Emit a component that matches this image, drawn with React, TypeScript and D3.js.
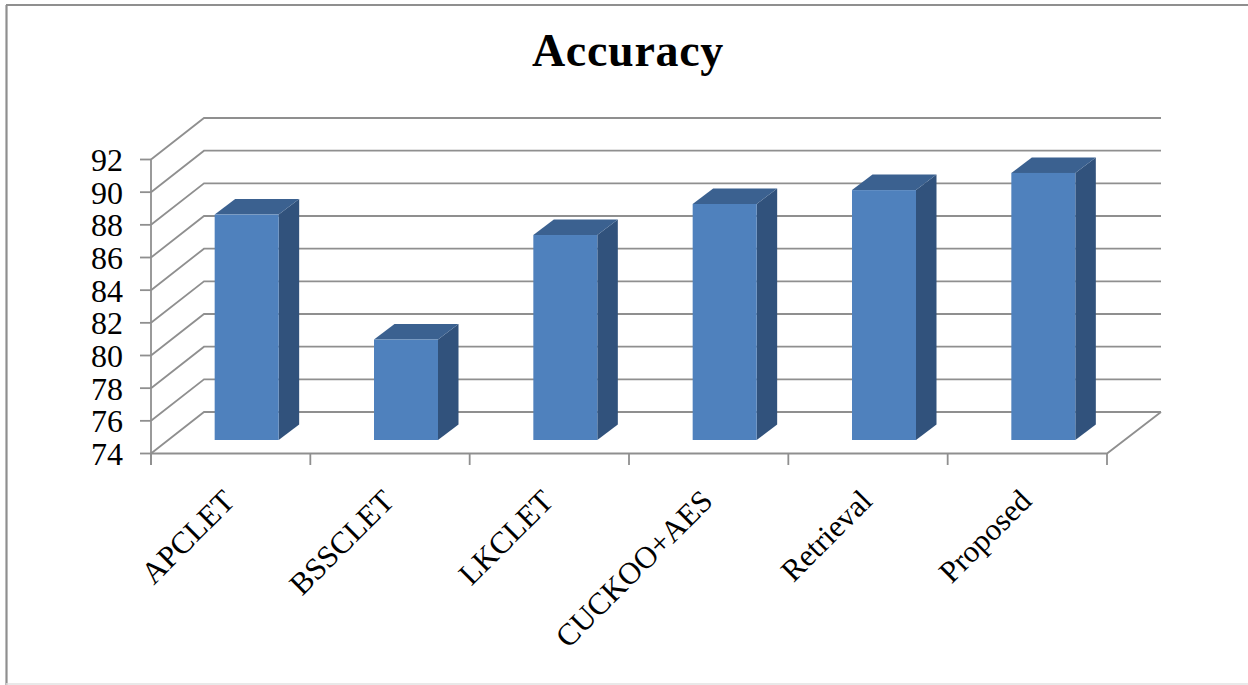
import React from "react";
import * as d3 from "d3";

const categories = ["APCLET", "BSSCLET", "LKCLET", "CUCKOO+AES", "Retrieval", "Proposed"];
const accuracy = [87.8, 80.15, 86.55, 88.45, 89.3, 90.35];
const yTicks = [74, 76, 78, 80, 82, 84, 86, 88, 90, 92];

const WIDTH = 1248;
const HEIGHT = 685;
const FONT = "'Liberation Serif', 'Times New Roman', serif";

// Oblique projection of the 3D plot box
const wallDx = 53;
const wallDy = -41.5;
const barPlaneDx = 16;
const barPlaneDy = -13.5;
const barDepthDx = 20.5;
const barDepthDy = -15.5;
const barWidth = 64;

const GRID = "#8f8f8f";
const FRONT = "#4f81bd";
const TOP = "#3b6190";
const SIDE = "#31527c";

const x = d3.scaleBand<string>().domain(categories).range([151, 1107]);
const y = d3.scaleLinear().domain([74, 92]).range([453.5, 159.5]);

const pts = (p: [number, number][]) => p.map((q) => q.join(",")).join(" ");

export default function App() {
  const [x0, x1] = x.range();
  const edges = [...categories.map((c) => x(c) as number), x1];

  return (
    <svg
      width={WIDTH}
      height={HEIGHT}
      viewBox={`0 0 ${WIDTH} ${HEIGHT}`}
      style={{ position: "absolute", left: 0, top: 0, background: "#fff" }}
    >
      {/* Chart frame */}
      <line x1={6.5} y1={5} x2={6.5} y2={HEIGHT} stroke="#8f8f8f" strokeWidth={2.2} />
      <line x1={6} y1={5} x2={WIDTH} y2={5} stroke="#8f8f8f" strokeWidth={2.2} />
      <line x1={6} y1={684} x2={WIDTH} y2={684} stroke="#e2e2e2" strokeWidth={1.5} />

      <text
        x={628}
        y={65.5}
        textAnchor="middle"
        fontFamily={FONT}
        fontWeight="bold"
        fontSize={46}
        letterSpacing={0.7}
        fill="#000"
      >
        Accuracy
      </text>

      {/* Side wall and back wall gridlines */}
      {yTicks.map((t) => (
        <polyline
          key={t}
          points={pts([
            [x0, y(t)],
            [x0 + wallDx, y(t) + wallDy],
            [x1 + wallDx + 1, y(t) + wallDy],
          ])}
          fill="none"
          stroke={GRID}
          strokeWidth={1.8}
        />
      ))}

      {/* Floor front edge and right edge */}
      <polyline
        points={pts([
          [x0, y(74)],
          [x1, y(74)],
          [x1 + wallDx + 1, y(74) + wallDy],
        ])}
        fill="none"
        stroke={GRID}
        strokeWidth={1.8}
      />

      {/* Value axis */}
      <line x1={x0} y1={y(92)} x2={x0} y2={465} stroke={GRID} strokeWidth={1.8} />
      {yTicks.map((t) => (
        <g key={t}>
          <line x1={140} y1={y(t)} x2={x0} y2={y(t)} stroke={GRID} strokeWidth={1.8} />
          <text
            x={123}
            y={y(t) + 11.5}
            textAnchor="end"
            fontFamily={FONT}
            fontSize={32}
            fill="#000"
          >
            {t}
          </text>
        </g>
      ))}

      {/* Category axis ticks */}
      {edges.map((e, i) => (
        <line key={i} x1={e} y1={y(74)} x2={e} y2={465} stroke={GRID} strokeWidth={1.8} />
      ))}

      {/* Extruded columns */}
      {categories.map((c, i) => {
        const left = (x(c) as number) + x.bandwidth() / 2 + barPlaneDx - barWidth / 2;
        const right = left + barWidth;
        const base = y(74) + barPlaneDy;
        const top = y(accuracy[i]) + barPlaneDy;
        return (
          <g key={c}>
            <polygon
              points={pts([
                [right, top],
                [right + barDepthDx, top + barDepthDy],
                [right + barDepthDx, base + barDepthDy],
                [right, base],
              ])}
              fill={SIDE}
            />
            <polygon
              points={pts([
                [left, top],
                [left + barDepthDx, top + barDepthDy],
                [right + barDepthDx, top + barDepthDy],
                [right, top],
              ])}
              fill={TOP}
            />
            <rect x={left} y={top} width={barWidth} height={base - top} fill={FRONT} />
          </g>
        );
      })}

      {/* Category labels, rotated and ending under each column */}
      {categories.map((c) => {
        const cx = (x(c) as number) + x.bandwidth() / 2;
        return (
          <text
            key={c}
            transform={`translate(${cx - 10},${487}) rotate(-45)`}
            textAnchor="end"
            dominantBaseline="hanging"
            fontFamily={FONT}
            fontSize={31}
            fill="#000"
          >
            {c}
          </text>
        );
      })}
    </svg>
  );
}
